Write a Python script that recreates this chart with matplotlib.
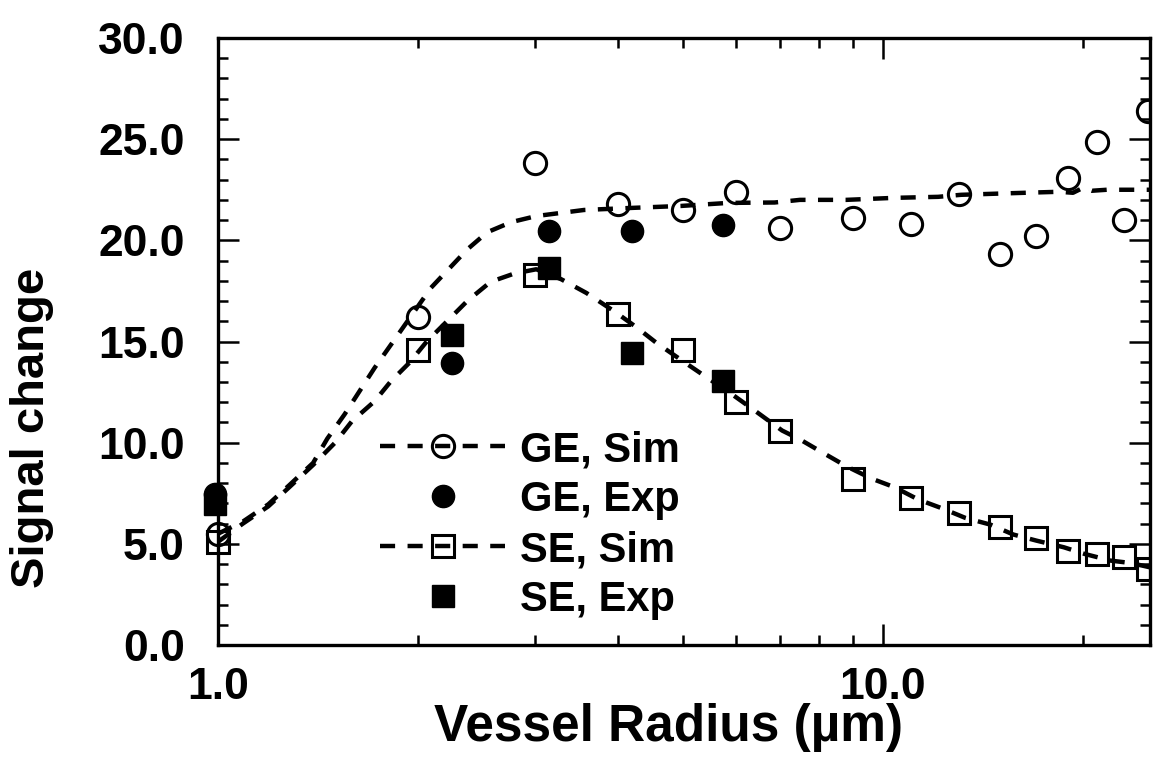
import matplotlib
matplotlib.use('Agg')
import matplotlib.pyplot as plt
from matplotlib.lines import Line2D
from matplotlib.patches import Rectangle
from matplotlib.ticker import NullFormatter, MultipleLocator, FormatStrFormatter

plt.rcParams['font.family'] = ['Liberation Sans', 'DejaVu Sans']
plt.rcParams['font.weight'] = 'bold'

# ---- data ----
sim_radius = [1, 2, 3, 4, 5, 6, 7, 9, 11, 13, 15, 17, 19, 21, 23, 25]
ge_sim = [5.5, 16.2, 23.8, 21.8, 21.5, 22.4, 20.6, 21.1, 20.8, 22.3, 19.3, 20.2, 23.1, 24.85, 21.0, 26.4]
se_sim = [5.1, 14.6, 18.3, 16.35, 14.6, 12.0, 10.6, 8.18, 7.27, 6.5, 5.83, 5.27, 4.65, 4.5, 4.37, 3.78]

exp_radius = [0.99, 2.25, 3.15, 4.2, 5.75]
ge_exp = [7.45, 13.95, 20.45, 20.45, 20.75]
se_exp = [6.95, 15.3, 18.65, 14.45, 13.05]

ge_curve_radius = [1.0, 1.09, 1.19, 1.28, 1.39, 1.46, 1.55, 1.72, 1.88, 2.09, 2.37, 2.54,
                   2.76, 3.01, 3.55, 4.17, 4.97, 5.85, 6.87, 7.5, 8.8, 10.4, 12.1, 13.1,
                   15.6, 18.4, 19.3, 20.0, 20.6, 21.7, 25.5]
ge_curve = [5.5, 6.1, 6.95, 7.9, 9.0, 10.2, 11.4, 13.7, 15.5, 17.65, 19.55, 20.4,
            20.9, 21.2, 21.5, 21.6, 21.7, 21.85, 21.87, 22.0, 22.0, 22.1, 22.15, 22.25,
            22.33, 22.4, 22.35, 22.6, 22.45, 22.5, 22.5]

se_curve_radius = [1.0, 1.09, 1.19, 1.28, 1.39, 1.50, 1.59, 1.72, 1.82, 1.94, 2.06, 2.21,
                   2.37, 2.57, 2.79, 3.01, 3.28, 3.58, 3.94, 4.26, 4.56, 5.0, 5.39, 5.98,
                   6.38, 7.05, 7.5, 8.17, 8.8, 9.6, 10.4, 11.3, 12.3, 13.3, 14.5, 15.7,
                   17.0, 18.7, 20.1, 22.0, 23.6, 25.5]
se_curve = [5.1, 6.0, 6.85, 7.8, 8.9, 10.0, 11.06, 12.05, 13.04, 13.95, 15.0, 16.0,
            17.0, 17.95, 18.36, 18.57, 18.08, 17.4, 16.5, 15.7, 14.94, 14.03, 13.3, 12.3,
            11.64, 10.6, 10.16, 9.45, 8.84, 8.23, 7.8, 7.19, 6.74, 6.28, 5.95, 5.46,
            5.16, 4.83, 4.5, 4.17, 4.05, 3.8]

labels = ['GE, Sim', 'GE, Exp', 'SE, Sim', 'SE, Exp']
x_major = [1, 10]
x_major_labels = ['1.0', '10.0']
x_minor = [2, 3, 4, 5, 6, 7, 8, 9, 20]

# ---- figure ----
W, H = 1153, 776
fig = plt.figure(figsize=(W / 100, H / 100), dpi=100)
ax = fig.add_axes([218 / W, (H - 645) / H, (1150 - 218) / W, (645 - 38) / H])
ax.set_xscale('log')
ax.set_xlim(1, 25.2)
ax.set_ylim(0, 30)

lw = 3.2
dash = (3.4, 2.8)
ax.plot(ge_curve_radius, ge_curve, color='black', lw=lw, dashes=dash, dash_capstyle='butt', zorder=2)
ax.plot(se_curve_radius, se_curve, color='black', lw=lw, dashes=dash, dash_capstyle='butt', zorder=2)

clip = Rectangle((-0.1, -0.1), 1.1, 1.2, transform=ax.transAxes, fill=False, visible=False)
ax.add_patch(clip)

ms = 16
mew = 2.2
arts = []
arts += ax.plot(sim_radius, ge_sim, ls='none', marker='o', mfc='none', mec='black', ms=ms, mew=mew, zorder=3)
arts += ax.plot(sim_radius, se_sim, ls='none', marker='s', mfc='none', mec='black', ms=ms, mew=mew, zorder=3)
arts += ax.plot(exp_radius, ge_exp, ls='none', marker='o', color='black', ms=ms, zorder=4)
arts += ax.plot(exp_radius, se_exp, ls='none', marker='s', color='black', ms=ms, zorder=4)
for a in arts:
    a.set_clip_path(clip)

# ticks
ax.set_xticks(x_major, labels=x_major_labels)
ax.set_xticks(x_minor, minor=True)
ax.xaxis.set_minor_formatter(NullFormatter())
ax.yaxis.set_major_locator(MultipleLocator(5))
ax.yaxis.set_minor_locator(MultipleLocator(1))
ax.yaxis.set_major_formatter(FormatStrFormatter('%.1f'))

ax.tick_params(which='both', direction='in', top=True, right=True, width=1.8, color='black')
ax.tick_params(which='major', length=15)
ax.tick_params(which='minor', length=7)
ax.tick_params(axis='x', which='major', pad=16, labelsize=32)
ax.tick_params(axis='y', which='major', pad=24, labelsize=32)
for s in ax.spines.values():
    s.set_linewidth(2.4)

# axis labels
fig.text(668 / W, 1 - 741 / H, 'Vessel Radius (µm)', ha='center', va='baseline', fontsize=37, fontweight='bold')
fig.text(32 / W, 1 - 428 / H, 'Signal change', ha='center', va='center', rotation=90, fontsize=34, fontweight='bold')

# legend
handles = [
    Line2D([], [], color='black', lw=lw, dashes=dash, marker='o', mfc='none', mec='black', ms=ms, mew=mew),
    Line2D([], [], ls='none', marker='o', color='black', ms=ms),
    Line2D([], [], color='black', lw=lw, dashes=dash, marker='s', mfc='none', mec='black', ms=ms, mew=mew),
    Line2D([], [], ls='none', marker='s', color='black', ms=ms),
]
ax.legend(handles, labels, loc='upper left', bbox_to_anchor=(380 / W, 1 - 430 / H),
          bbox_transform=fig.transFigure, frameon=False,
          prop={'weight': 'bold', 'size': 30},
          handlelength=3.0, handletextpad=0.36, labelspacing=0.24, borderpad=0, borderaxespad=0,
          numpoints=1)

fig.savefig('out.png', dpi=100)
